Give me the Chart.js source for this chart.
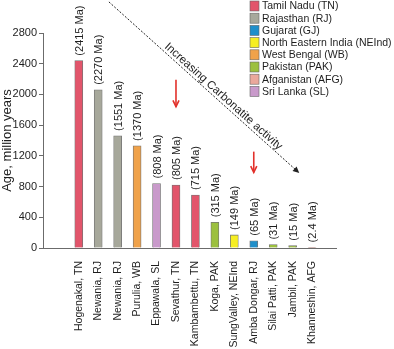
<!DOCTYPE html>
<html>
<head>
<meta charset="utf-8">
<script src="https://cdn.jsdelivr.net/npm/chart.js@4.4.1/dist/chart.umd.min.js"></script>
<style>
    html, body { margin: 0; padding: 0; background: #fff; }
    #wrap { position: relative; width: 394px; height: 349px; }
</style>
</head>
<body>
<div id="wrap"><canvas id="ageChart" width="394" height="349"></canvas></div>
<script>
// sites (x categories), region of each site, drawn bar heights and printed ages
const sites = ['Hogenakal, TN', 'Newania, RJ', 'Newania, RJ', 'Purulia, WB', 'Eppawala, SL', 'Sevathur, TN',
    'Kambambettu, TN', 'Koga, PAK', 'SungValley, NEInd', 'Amba Dongar, RJ', 'Silai Patti, PAK', 'Jambil, PAK', 'Khanneshin, AFG'];
const siteRegions = ['TN', 'RJ', 'RJ', 'WB', 'SL', 'TN', 'TN', 'PAK', 'NEInd', 'GJ', 'PAK', 'PAK', 'AFG'];
const barHeights = [2440, 2060, 1460, 1330, 840, 820, 690, 335, 170, 95, 45, 30, 8];
const ages = ['2415', '2270', '1551', '1370', '808', '805', '715', '315', '149', '65', '31', '15', '2.4'];

// legend entries
const regionCodes = ['TN', 'RJ', 'GJ', 'NEInd', 'WB', 'PAK', 'AFG', 'SL'];
const regionNames = ['Tamil Nadu (TN)', 'Rajasthan (RJ)', 'Gujarat (GJ)', 'North Eastern India (NEInd)',
    'West Bengal (WB)', 'Pakistan (PAK)', 'Afganistan (AFG)', 'Sri Lanka (SL)'];
const regionColors = ['#e2556b', '#a7a89b', '#1f8fca', '#f6ee22', '#f0a24a', '#9cc03e', '#eaa89c', '#c99acb'];

const yTicks = [0, 400, 800, 1200, 1600, 2000, 2400, 2800];

const FONT = '"Liberation Sans", Arial, sans-serif';
const TEXT = '#1e1e1e';

function colorOf(code) {
    return regionColors[regionCodes.indexOf(code)];
}

const barLabels = {
    id: 'barLabels',
    afterDatasetsDraw(chart) {
        const ctx = chart.ctx;
        const meta = chart.getDatasetMeta(0);
        ctx.save();
        ctx.font = '11px ' + FONT;
        ctx.fillStyle = TEXT;
        ctx.textAlign = 'left';
        ctx.textBaseline = 'middle';
        meta.data.forEach((bar, i) => {
            ctx.save();
            ctx.translate(bar.x + 1, bar.y - 5);
            ctx.rotate(-Math.PI / 2);
            ctx.fillText('(' + ages[i] + ' Ma)', 0, 0);
            ctx.restore();
        });
        ctx.restore();
    }
};

const legendBox = {
    id: 'legendBox',
    afterDraw(chart) {
        const ctx = chart.ctx;
        ctx.save();
        ctx.font = '10.5px ' + FONT;
        ctx.textBaseline = 'middle';
        regionNames.forEach((name, i) => {
            const cy = 6 + i * 12.2;
            ctx.fillStyle = regionColors[i];
            ctx.fillRect(250, cy - 5, 9, 10);
            ctx.strokeStyle = '#666';
            ctx.lineWidth = 0.6;
            ctx.strokeRect(250, cy - 5, 9, 10);
            ctx.fillStyle = TEXT;
            ctx.fillText(name, 262, cy + 0.5);
        });
        ctx.restore();
    }
};

function arrowHead(ctx, x, y, angle, size, filled) {
    ctx.beginPath();
    ctx.moveTo(x - size * Math.cos(angle - 0.45), y - size * Math.sin(angle - 0.45));
    ctx.lineTo(x, y);
    ctx.lineTo(x - size * Math.cos(angle + 0.45), y - size * Math.sin(angle + 0.45));
    if (filled) {
        ctx.closePath();
        ctx.fill();
    } else {
        ctx.stroke();
    }
}

const annotations = {
    id: 'annotations',
    afterDraw(chart) {
        const ctx = chart.ctx;
        const xs = chart.scales.x;
        const ys = chart.scales.y;
        ctx.save();

        // dashed trend arrow
        const x1 = xs.getPixelForValue(1.55), y1 = ys.getPixelForValue(3205);
        const x2 = xs.getPixelForValue(11.34), y2 = ys.getPixelForValue(977);
        const ang = Math.atan2(y2 - y1, x2 - x1);
        ctx.strokeStyle = '#222';
        ctx.fillStyle = '#222';
        ctx.lineWidth = 1;
        ctx.setLineDash([2, 1.6]);
        ctx.beginPath();
        ctx.moveTo(x1, y1);
        ctx.lineTo(x2 - 4 * Math.cos(ang), y2 - 4 * Math.sin(ang));
        ctx.stroke();
        ctx.setLineDash([]);
        arrowHead(ctx, x2, y2, ang, 7, true);

        // label along the trend
        const t = 0.58;
        const mx = x1 + (x2 - x1) * t, my = y1 + (y2 - y1) * t;
        ctx.save();
        ctx.translate(mx, my);
        ctx.rotate(ang);
        ctx.font = '11.5px ' + FONT;
        ctx.fillStyle = TEXT;
        ctx.textAlign = 'center';
        ctx.textBaseline = 'alphabetic';
        ctx.fillText('Increasing Carbonatite activity', 0, -3);
        ctx.restore();

        // red arrows
        ctx.strokeStyle = '#e2312b';
        ctx.lineWidth = 1.6;
        [[5, 2190, 1840], [9, 1255, 985]].forEach(a => {
            const ax = xs.getPixelForValue(a[0]);
            const ay1 = ys.getPixelForValue(a[1]);
            const ay2 = ys.getPixelForValue(a[2]);
            ctx.beginPath();
            ctx.moveTo(ax, ay1);
            ctx.lineTo(ax, ay2);
            ctx.stroke();
            arrowHead(ctx, ax, ay2, Math.PI / 2, 7, false);
        });
        ctx.restore();
    }
};

const ctx = document.getElementById('ageChart').getContext('2d');
const ageChart = new Chart(ctx, {
    type: 'bar',
    data: {
        datasets: [{
            data: barHeights.map((h, i) => ({ x: i, y: h })),
            backgroundColor: siteRegions.map(colorOf),
            borderColor: 'rgba(70, 70, 70, 0.75)',
            borderWidth: 0.8,
            barThickness: 8
        }]
    },
    options: {
        responsive: false,
        animation: false,
        layout: {
            padding: { top: 33, right: 58, bottom: 0, left: 0 }
        },
        plugins: {
            legend: { display: false },
            tooltip: { enabled: false }
        },
        scales: {
            x: {
                type: 'linear',
                min: -1.26,
                max: 12.65,
                afterBuildTicks: scale => {
                    scale.ticks = sites.map((s, i) => ({ value: i }));
                },
                afterFit: scale => {
                    scale.height = 101;
                },
                grid: { display: false, drawTicks: false },
                border: { color: '#6b6b6b', width: 1 },
                ticks: {
                    autoSkip: false,
                    minRotation: 90,
                    maxRotation: 90,
                    padding: 13,
                    color: TEXT,
                    font: { family: FONT, size: 10.5 },
                    callback: value => sites[value]
                }
            },
            y: {
                min: 0,
                max: 2800,
                afterBuildTicks: scale => {
                    scale.ticks = yTicks.map(v => ({ value: v }));
                },
                afterFit: scale => {
                    scale.width = 43;
                },
                grid: { drawOnChartArea: false, drawTicks: true, tickLength: 4, color: '#6b6b6b' },
                border: { color: '#6b6b6b', width: 1 },
                ticks: {
                    padding: 2,
                    color: TEXT,
                    font: { family: FONT, size: 11 },
                    callback: value => String(value)
                },
                title: {
                    display: true,
                    text: 'Age, million years',
                    color: TEXT,
                    font: { family: FONT, size: 13 },
                    padding: { top: 0, bottom: 0 }
                }
            }
        }
    },
    plugins: [barLabels, legendBox, annotations]
});
</script>
</body>
</html>
